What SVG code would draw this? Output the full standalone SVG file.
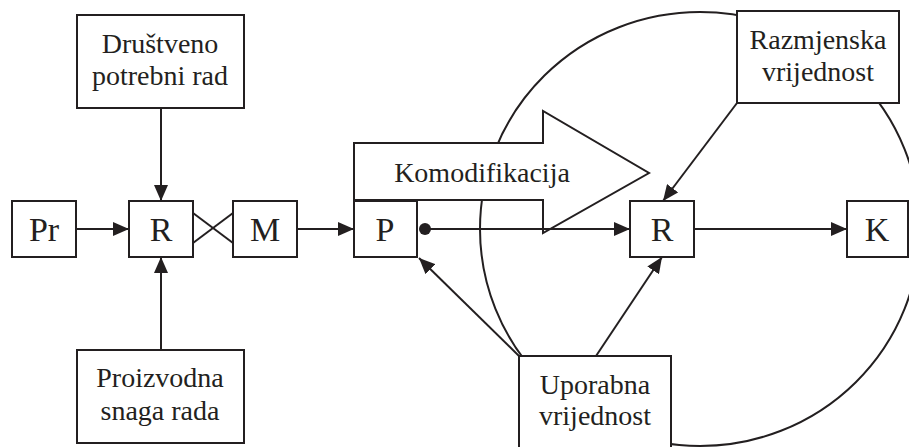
<svg xmlns="http://www.w3.org/2000/svg" width="909" height="447" viewBox="0 0 909 447">
<defs>
<style>
.b{fill:#fff;stroke:#231f20;stroke-width:2}
.l{fill:none;stroke:#231f20;stroke-width:2}
.t{font-family:"Liberation Serif","Times New Roman",serif;font-size:28px;fill:#231f20;text-anchor:middle}
.s{font-family:"Liberation Serif","Times New Roman",serif;font-size:34px;fill:#231f20;text-anchor:middle}
</style>
<marker id="ah" markerUnits="userSpaceOnUse" markerWidth="17" markerHeight="14" refX="16" refY="7" orient="auto">
<path d="M0,0 L16,7 L0,14 z" fill="#231f20"/>
</marker>
</defs>
<rect width="909" height="447" fill="#fff"/>
<g id="circle"><ellipse class="l" cx="700" cy="229" rx="220" ry="217"/></g>
<g id="komodifikacija">
<polygon class="b" points="354,143 543,143 543,111 649,173 543,233 543,200 354,200"/>
<text class="t" x="482" y="182">Komodifikacija</text>
</g>
<g id="pr"><rect class="b" x="12" y="201" width="64" height="56"/><text class="s" x="44" y="241">Pr</text></g>
<g id="r1"><rect class="b" x="129" y="201" width="64" height="56"/><text class="s" x="161" y="241">R</text></g>
<g id="m"><rect class="b" x="233" y="201" width="64" height="56"/><text class="s" x="265" y="241">M</text></g>
<g id="p"><rect class="b" x="354" y="201" width="63" height="56"/><text class="s" x="385" y="241">P</text></g>
<g id="r2"><rect class="b" x="630" y="201" width="64" height="56"/><text class="s" x="662" y="241">R</text></g>
<g id="k"><rect class="b" x="847" y="201" width="61" height="56"/><text class="s" x="877" y="241">K</text></g>
<g id="drustveno"><rect class="b" x="77" y="15" width="167" height="93"/><text class="t" x="160" y="53">Društveno</text><text class="t" x="160" y="85">potrebni rad</text></g>
<g id="proizvodna"><rect class="b" x="77" y="350" width="167" height="93"/><text class="t" x="160" y="387">Proizvodna</text><text class="t" x="160" y="420">snaga rada</text></g>
<g id="razmjenska"><rect class="b" x="737" y="11" width="162" height="92"/><text class="t" x="818" y="49">Razmjenska</text><text class="t" x="818" y="81">vrijednost</text></g>
<g id="uporabna"><rect class="b" x="519" y="356" width="152" height="100"/><text class="t" x="595" y="394">Uporabna</text><text class="t" x="595" y="425">vrijednost</text></g>
<g id="connectors">
<line class="l" x1="76" y1="229" x2="129" y2="229" marker-end="url(#ah)"/>
<line class="l" x1="161" y1="108" x2="161" y2="201" marker-end="url(#ah)"/>
<line class="l" x1="161" y1="350" x2="161" y2="257" marker-end="url(#ah)"/>
<line class="l" x1="193" y1="213" x2="233" y2="243"/>
<line class="l" x1="193" y1="243" x2="233" y2="213"/>
<line class="l" x1="297" y1="229" x2="354" y2="229" marker-end="url(#ah)"/>
<line class="l" x1="425" y1="229" x2="630" y2="229" marker-end="url(#ah)"/>
<circle cx="425" cy="229" r="6" fill="#231f20"/>
<line class="l" x1="694" y1="229" x2="847" y2="229" marker-end="url(#ah)"/>
<line class="l" x1="737" y1="103" x2="663" y2="201" marker-end="url(#ah)"/>
<line class="l" x1="519" y1="356" x2="419" y2="258" marker-end="url(#ah)"/>
<line class="l" x1="596" y1="356" x2="662" y2="257" marker-end="url(#ah)"/>
</g>
</svg>
